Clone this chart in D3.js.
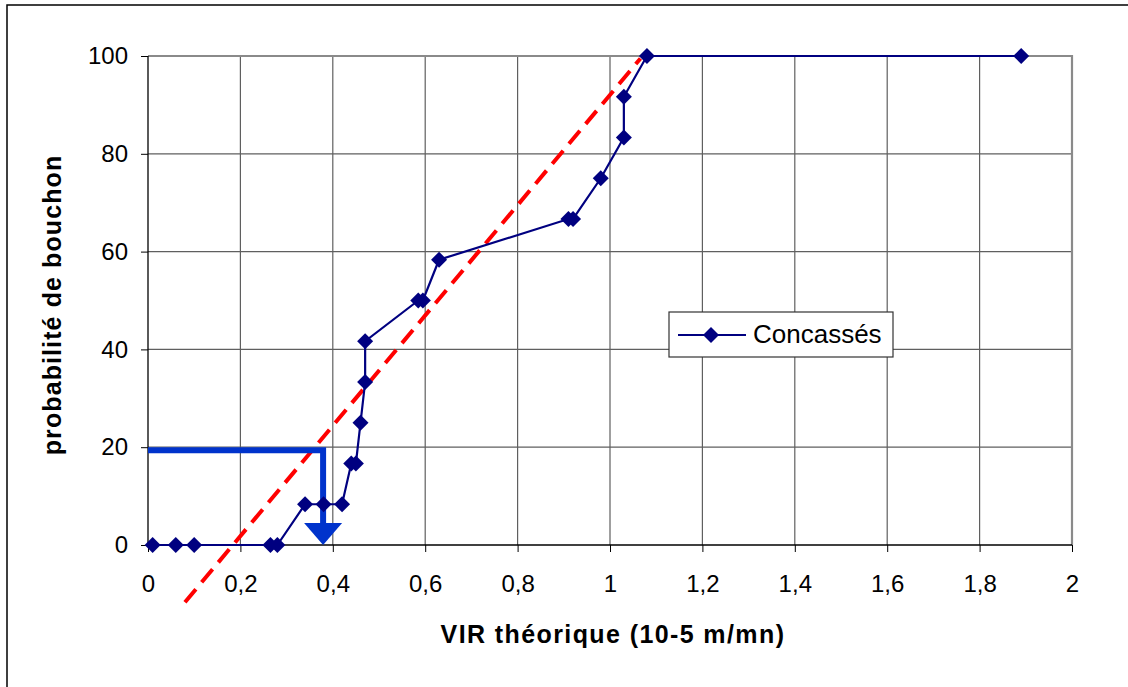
<!DOCTYPE html>
<html>
<head>
<meta charset="utf-8">
<script src="https://cdn.jsdelivr.net/npm/d3@7"></script>
<style>
  body { margin: 0; background: #fff; }
  text { font-family: "Liberation Sans", Arial, sans-serif; }
</style>
</head>
<body>
<svg id="chart" width="1128" height="687"></svg>
<script>
// data
const vir = [0.01, 0.06, 0.10, 0.265, 0.28, 0.34, 0.38, 0.42, 0.44, 0.45, 0.46, 0.47, 0.47,
             0.585, 0.595, 0.63, 0.91, 0.92, 0.98, 1.03, 1.03, 1.08, 1.89];
const proba = [0, 0, 0, 0, 0, 8.33, 8.33, 8.33, 16.67, 16.67, 25, 33.33, 41.67,
               50, 50, 58.33, 66.67, 66.67, 75, 83.33, 91.67, 100, 100];
const xTicks = [0, 0.2, 0.4, 0.6, 0.8, 1, 1.2, 1.4, 1.6, 1.8, 2];
const yTicks = [0, 20, 40, 60, 80, 100];
const trendX = [0.08, 1.066];   // red dashed line ends
const trendY = [-11.7, 99.5];
const arrowX = 0.379;           // blue arrow corner
const arrowY = 19.4;
const seriesName = 'Concassés';

const svg = d3.select('#chart');
const x = d3.scaleLinear().domain([0, 2]).range([148, 1072]);
const y = d3.scaleLinear().domain([0, 100]).range([545, 56]);

const fr = d3.formatLocale({decimal: ',', thousands: ' ', grouping: [3], currency: ['', '€']});
const fmt = fr.format('.1~f');

// outer frame
svg.append('rect')
  .attr('x', 7).attr('y', 5).attr('width', 1140).attr('height', 700)
  .attr('fill', 'none').attr('stroke', '#000').attr('stroke-width', 1.5);

// grid
const g = svg.append('g');
g.selectAll('line.vg').data(xTicks.slice(1, -1)).join('line')
  .attr('class', 'vg')
  .attr('x1', (d) => x(d)).attr('x2', (d) => x(d))
  .attr('y1', y(100)).attr('y2', y(0))
  .attr('stroke', '#5f5f5f').attr('stroke-width', 1.2);
g.selectAll('line.hg').data(yTicks.slice(1, -1)).join('line')
  .attr('class', 'hg')
  .attr('x1', x(0)).attr('x2', x(2))
  .attr('y1', (d) => y(d)).attr('y2', (d) => y(d))
  .attr('stroke', '#5f5f5f').attr('stroke-width', 1.2);

// top / right border (grey)
g.append('path')
  .attr('d', `M${x(0)},${y(100)}H${x(2)}V${y(0)}`)
  .attr('fill', 'none').attr('stroke', '#8a8a8a').attr('stroke-width', 2.2);

// axes
const xAxis = d3.axisBottom(x).tickValues(xTicks).tickFormat(fmt).tickSize(7).tickPadding(23);
const yAxis = d3.axisLeft(y).tickValues(yTicks).tickSize(7).tickPadding(13);

svg.append('g').attr('transform', `translate(0,${y(0)})`).call(xAxis)
  .call((a) => a.select('.domain').attr('d', `M${x(0)},0H${x(2)}`).attr('stroke-width', 1.3))
  .call((a) => a.selectAll('text').attr('font-size', 24).attr('font-family', '"Liberation Sans", Arial').attr('fill', '#000'));
svg.append('g').attr('transform', `translate(${x(0)},0)`).call(yAxis)
  .call((a) => a.select('.domain').attr('d', `M0,${y(100)}V${y(0)}`).attr('stroke-width', 1.3))
  .call((a) => a.selectAll('text').attr('font-size', 24).attr('font-family', '"Liberation Sans", Arial').attr('fill', '#000'));

// axis titles
svg.append('text')
  .attr('x', 613).attr('y', 643)
  .attr('text-anchor', 'middle')
  .attr('font-size', 25).attr('font-weight', 'bold').attr('letter-spacing', 1.4)
  .text('VIR théorique (10-5 m/mn)');
svg.append('text')
  .attr('transform', 'translate(61,305) rotate(-90)')
  .attr('text-anchor', 'middle')
  .attr('font-size', 25).attr('font-weight', 'bold').attr('letter-spacing', 1.1)
  .text('probabilité de bouchon');

// red dashed trend line
svg.append('line')
  .attr('x1', x(trendX[0])).attr('y1', y(trendY[0]))
  .attr('x2', x(trendX[1])).attr('y2', y(trendY[1]))
  .attr('stroke', '#ff0000').attr('stroke-width', 4)
  .attr('stroke-dasharray', '17,9');

// blue arrow
const ax = x(arrowX);
svg.append('path')
  .attr('d', `M${x(0)},${y(arrowY)}H${ax}V${y(0) - 22}`)
  .attr('fill', 'none').attr('stroke', '#0033cc').attr('stroke-width', 6);
svg.append('path')
  .attr('d', `M${ax - 19},${y(0) - 22}L${ax + 19},${y(0) - 22}L${ax},${y(0)}Z`)
  .attr('fill', '#0033cc');

// series
const pts = vir.map((v, i) => [v, proba[i]]);
const line = d3.line().x((d) => x(d[0])).y((d) => y(d[1]));
svg.append('path')
  .datum(pts)
  .attr('d', line)
  .attr('fill', 'none').attr('stroke', '#000080').attr('stroke-width', 2.2);

const diamond = (r) => `M0,${-r}L${r},0L0,${r}L${-r},0Z`;
svg.selectAll('path.mk').data(pts).join('path')
  .attr('class', 'mk')
  .attr('transform', (d) => `translate(${x(d[0])},${y(d[1])})`)
  .attr('d', diamond(8))
  .attr('fill', '#000080');

// legend
const lg = svg.append('g').attr('transform', 'translate(669,312)');
lg.append('rect').attr('width', 224).attr('height', 45)
  .attr('fill', '#fff').attr('stroke', '#333').attr('stroke-width', 1.2);
lg.append('line').attr('x1', 9).attr('x2', 77).attr('y1', 23).attr('y2', 23)
  .attr('stroke', '#000080').attr('stroke-width', 2.2);
lg.append('path').attr('transform', 'translate(42,23)').attr('d', diamond(8)).attr('fill', '#000080');
lg.append('text').attr('x', 84).attr('y', 31).attr('font-size', 26).text(seriesName);
</script>
</body>
</html>
